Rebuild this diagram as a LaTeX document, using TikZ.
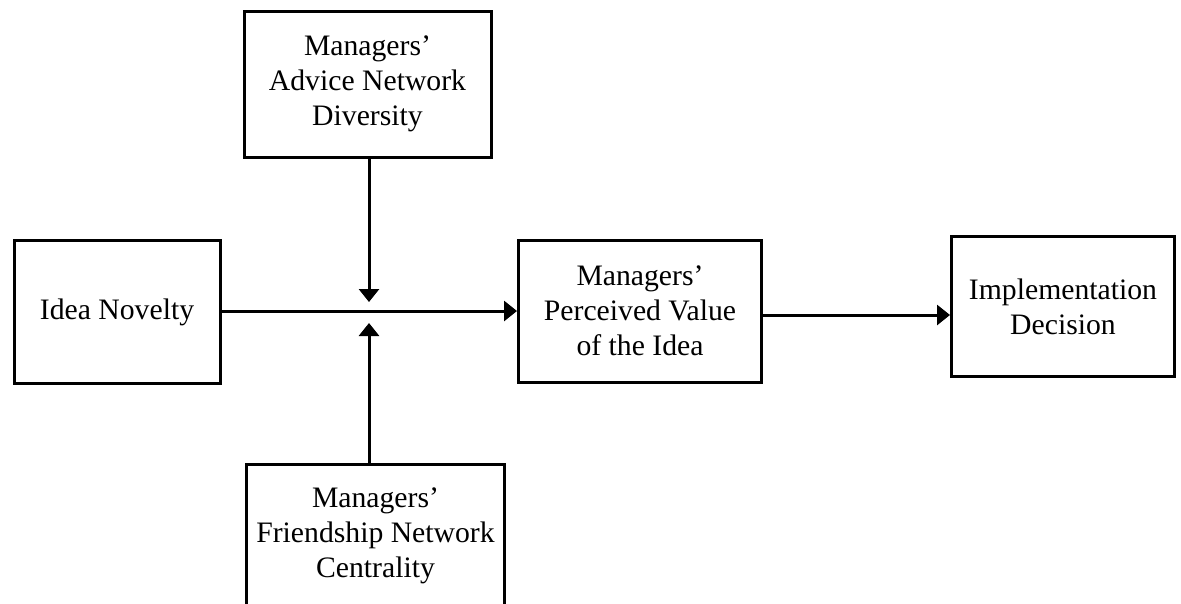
\documentclass[tikz,border=0pt]{standalone}
\usepackage{fontspec}
\setmainfont{Liberation Serif}
\usetikzlibrary{arrows.meta}
\begin{document}
\begin{tikzpicture}[x=1pt,y=-1pt,
  box/.style={draw=black, line width=3pt, rectangle, align=center, inner sep=0pt,
    font=\fontsize{29.7}{35}\selectfont},
  arr/.style={line width=3pt, -{Triangle[length=13pt,width=20pt]}}]
\useasboundingbox (0,0) rectangle (1181,603);
\fill[white] (0,0) rectangle (1181,603);
\node[box, minimum width=247pt, minimum height=146pt] (adv) at (367.5,84) {Managers’\\Advice Network\\Diversity};
\node[box, minimum width=206pt, minimum height=143pt] (idea) at (117,312) {Idea Novelty};
\node[box, minimum width=243pt, minimum height=142pt] (mid) at (640,311) {Managers’\\Perceived Value\\of the Idea};
\node[box, minimum width=223pt, minimum height=140pt] (impl) at (1063,306.5) {Implementation\\Decision};
\node[box, minimum width=258pt, minimum height=144pt] (fri) at (375.5,536) {Managers’\\Friendship Network\\Centrality};
\coordinate (tipA) at (369,302);
\coordinate (tipB) at (369,323);
\draw[arr] (idea.east |- mid.west) -- (mid.west);
\draw[arr] (adv.south -| tipA) -- (tipA);
\draw[arr] (fri.north -| tipB) -- (tipB);
\draw[arr] ([yshift=-4pt]mid.east) -- ([yshift=-4pt]mid.east -| impl.west);
\end{tikzpicture}
\end{document}
